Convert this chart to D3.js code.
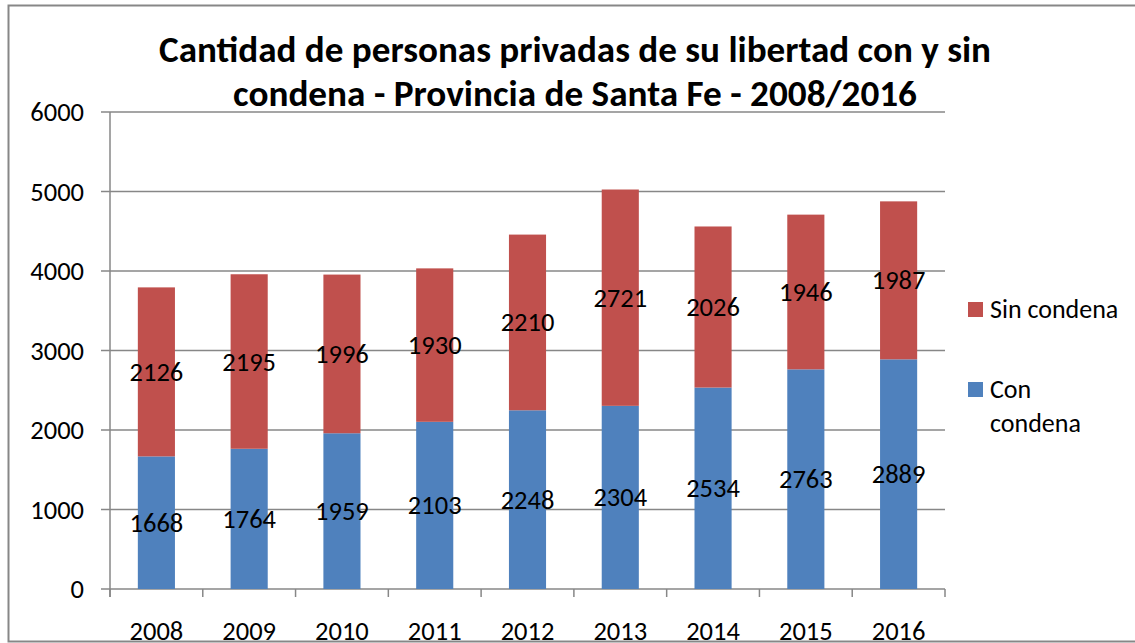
<!DOCTYPE html>
<html>
<head>
<meta charset="utf-8">
<script src="https://cdn.jsdelivr.net/npm/d3@7"></script>
<style>
  body { margin: 0; background: #fff; }
  svg { display: block; }
  text { font-family: Calibri, Carlito, "Open Sans", sans-serif; fill: #000; }
  .gridLine { stroke: #878787; stroke-width: 1.5; }
  .axisLine { stroke: #878787; stroke-width: 1.5; }
  .tickText { font-size: 26.5px; }
  .barLabel { font-size: 26.5px; }
  .legendText { font-size: 26px; }
  .title { font-size: 37px; font-weight: bold; }
</style>
</head>
<body>
<div id="chart"></div>
<script>
// data
var years = ["2008","2009","2010","2011","2012","2013","2014","2015","2016"]
var conCondena = [1668,1764,1959,2103,2248,2304,2534,2763,2889]
var sinCondena = [2126,2195,1996,1930,2210,2721,2026,1946,1987]
var yTicks = [0,1000,2000,3000,4000,5000,6000]
var seriesNames = ["Con condena","Sin condena"]
var seriesColors = ["#4f81bd","#c0504d"]

var W = 1135, H = 643
var plotL = 110, plotR = 945, plotT = 112, plotB = 589

var svg = d3.select("#chart").append("svg")
  .attr("width", W)
  .attr("height", H)

/* outer frame */
svg.append("rect")
  .attr("x", 8.5)
  .attr("y", 5.5)
  .attr("width", 1140)
  .attr("height", 636)
  .attr("fill", "none")
  .attr("stroke", "#878787")
  .attr("stroke-width", 2)

/* title */
var titleLines = [
  {t: "Cantidad de personas privadas de su libertad con y sin", y: 62, len: 832},
  {t: "condena - Provincia de Santa Fe - 2008/2016", y: 106, len: 684}
]
titleLines.forEach(function(l) {
  svg.append("text")
    .attr("class", "title")
    .attr("x", 575)
    .attr("y", l.y)
    .attr("text-anchor", "middle")
    .attr("textLength", l.len)
    .attr("lengthAdjust", "spacingAndGlyphs")
    .text(l.t)
})

/* scales */
var xScale = d3.scaleBand()
  .domain(years)
  .range([plotL, plotR])
  .paddingInner(0.6)
  .paddingOuter(0.3)
var yScale = d3.scaleLinear()
  .domain([0, 6000])
  .range([plotB, plotT])

/* horizontal grid + y ticks */
svg.selectAll(".gridLine")
  .data(yTicks)
  .enter()
  .append("line")
  .attr("class", "gridLine")
  .attr("x1", plotL - 9)
  .attr("x2", plotR)
  .attr("y1", function(d) { return yScale(d) })
  .attr("y2", function(d) { return yScale(d) })
svg.selectAll(".yText")
  .data(yTicks)
  .enter()
  .append("text")
  .attr("class", "tickText yText")
  .attr("x", 84)
  .attr("y", function(d) { return yScale(d) + 9 })
  .attr("text-anchor", "end")
  .text(function(d) { return d })

/* y axis line */
svg.append("line")
  .attr("class", "axisLine")
  .attr("x1", plotL)
  .attr("x2", plotL)
  .attr("y1", plotT)
  .attr("y2", plotB + 8)

/* x axis ticks on category boundaries */
var step = xScale.step()
var bounds = years.map(function(d) { return xScale(d) - step * xScale.paddingOuter() })
bounds.push(plotR)
svg.selectAll(".xTick")
  .data(bounds)
  .enter()
  .append("line")
  .attr("class", "axisLine xTick")
  .attr("x1", function(d) { return d })
  .attr("x2", function(d) { return d })
  .attr("y1", plotB)
  .attr("y2", plotB + 8)

/* stacked bars */
var stackData = years.map(function(y, i) {
  return {year: y, con: conCondena[i], sin: sinCondena[i]}
})
var stack = d3.stack().keys(["con", "sin"])
var layers = stack(stackData)

var layerG = svg.selectAll(".layer")
  .data(layers)
  .enter()
  .append("g")
  .attr("class", "layer")
  .attr("fill", function(d, i) { return seriesColors[i] })
layerG.selectAll("rect")
  .data(function(d) { return d })
  .enter()
  .append("rect")
  .attr("x", function(d) { return xScale(d.data.year) })
  .attr("width", xScale.bandwidth())
  .attr("y", function(d) { return yScale(d[1]) })
  .attr("height", function(d) { return yScale(d[0]) - yScale(d[1]) })

/* bar value labels */
layers.forEach(function(layer) {
  svg.selectAll(".lbl-" + layer.key)
    .data(layer)
    .enter()
    .append("text")
    .attr("class", "barLabel lbl-" + layer.key)
    .attr("x", function(d) { return xScale(d.data.year) + xScale.bandwidth() / 2 })
    .attr("y", function(d) { return yScale((d[0] + d[1]) / 2) + 9 })
    .attr("text-anchor", "middle")
    .text(function(d) { return d[1] - d[0] })
})

/* x labels */
svg.selectAll(".xText")
  .data(years)
  .enter()
  .append("text")
  .attr("class", "tickText xText")
  .attr("x", function(d) { return xScale(d) + xScale.bandwidth() / 2 })
  .attr("y", 640)
  .attr("text-anchor", "middle")
  .text(function(d) { return d })

/* legend */
var legend = [
  {name: seriesNames[1], color: seriesColors[1], y: 302, lines: ["Sin condena"]},
  {name: seriesNames[0], color: seriesColors[0], y: 382, lines: ["Con", "condena"]}
]
legend.forEach(function(l) {
  svg.append("rect")
    .attr("x", 968)
    .attr("y", l.y)
    .attr("width", 15)
    .attr("height", 15)
    .attr("fill", l.color)
  l.lines.forEach(function(t, j) {
    svg.append("text")
      .attr("class", "legendText")
      .attr("x", 990)
      .attr("y", l.y + 16 + j * 34)
      .text(t)
  })
})
</script>
</body>
</html>
